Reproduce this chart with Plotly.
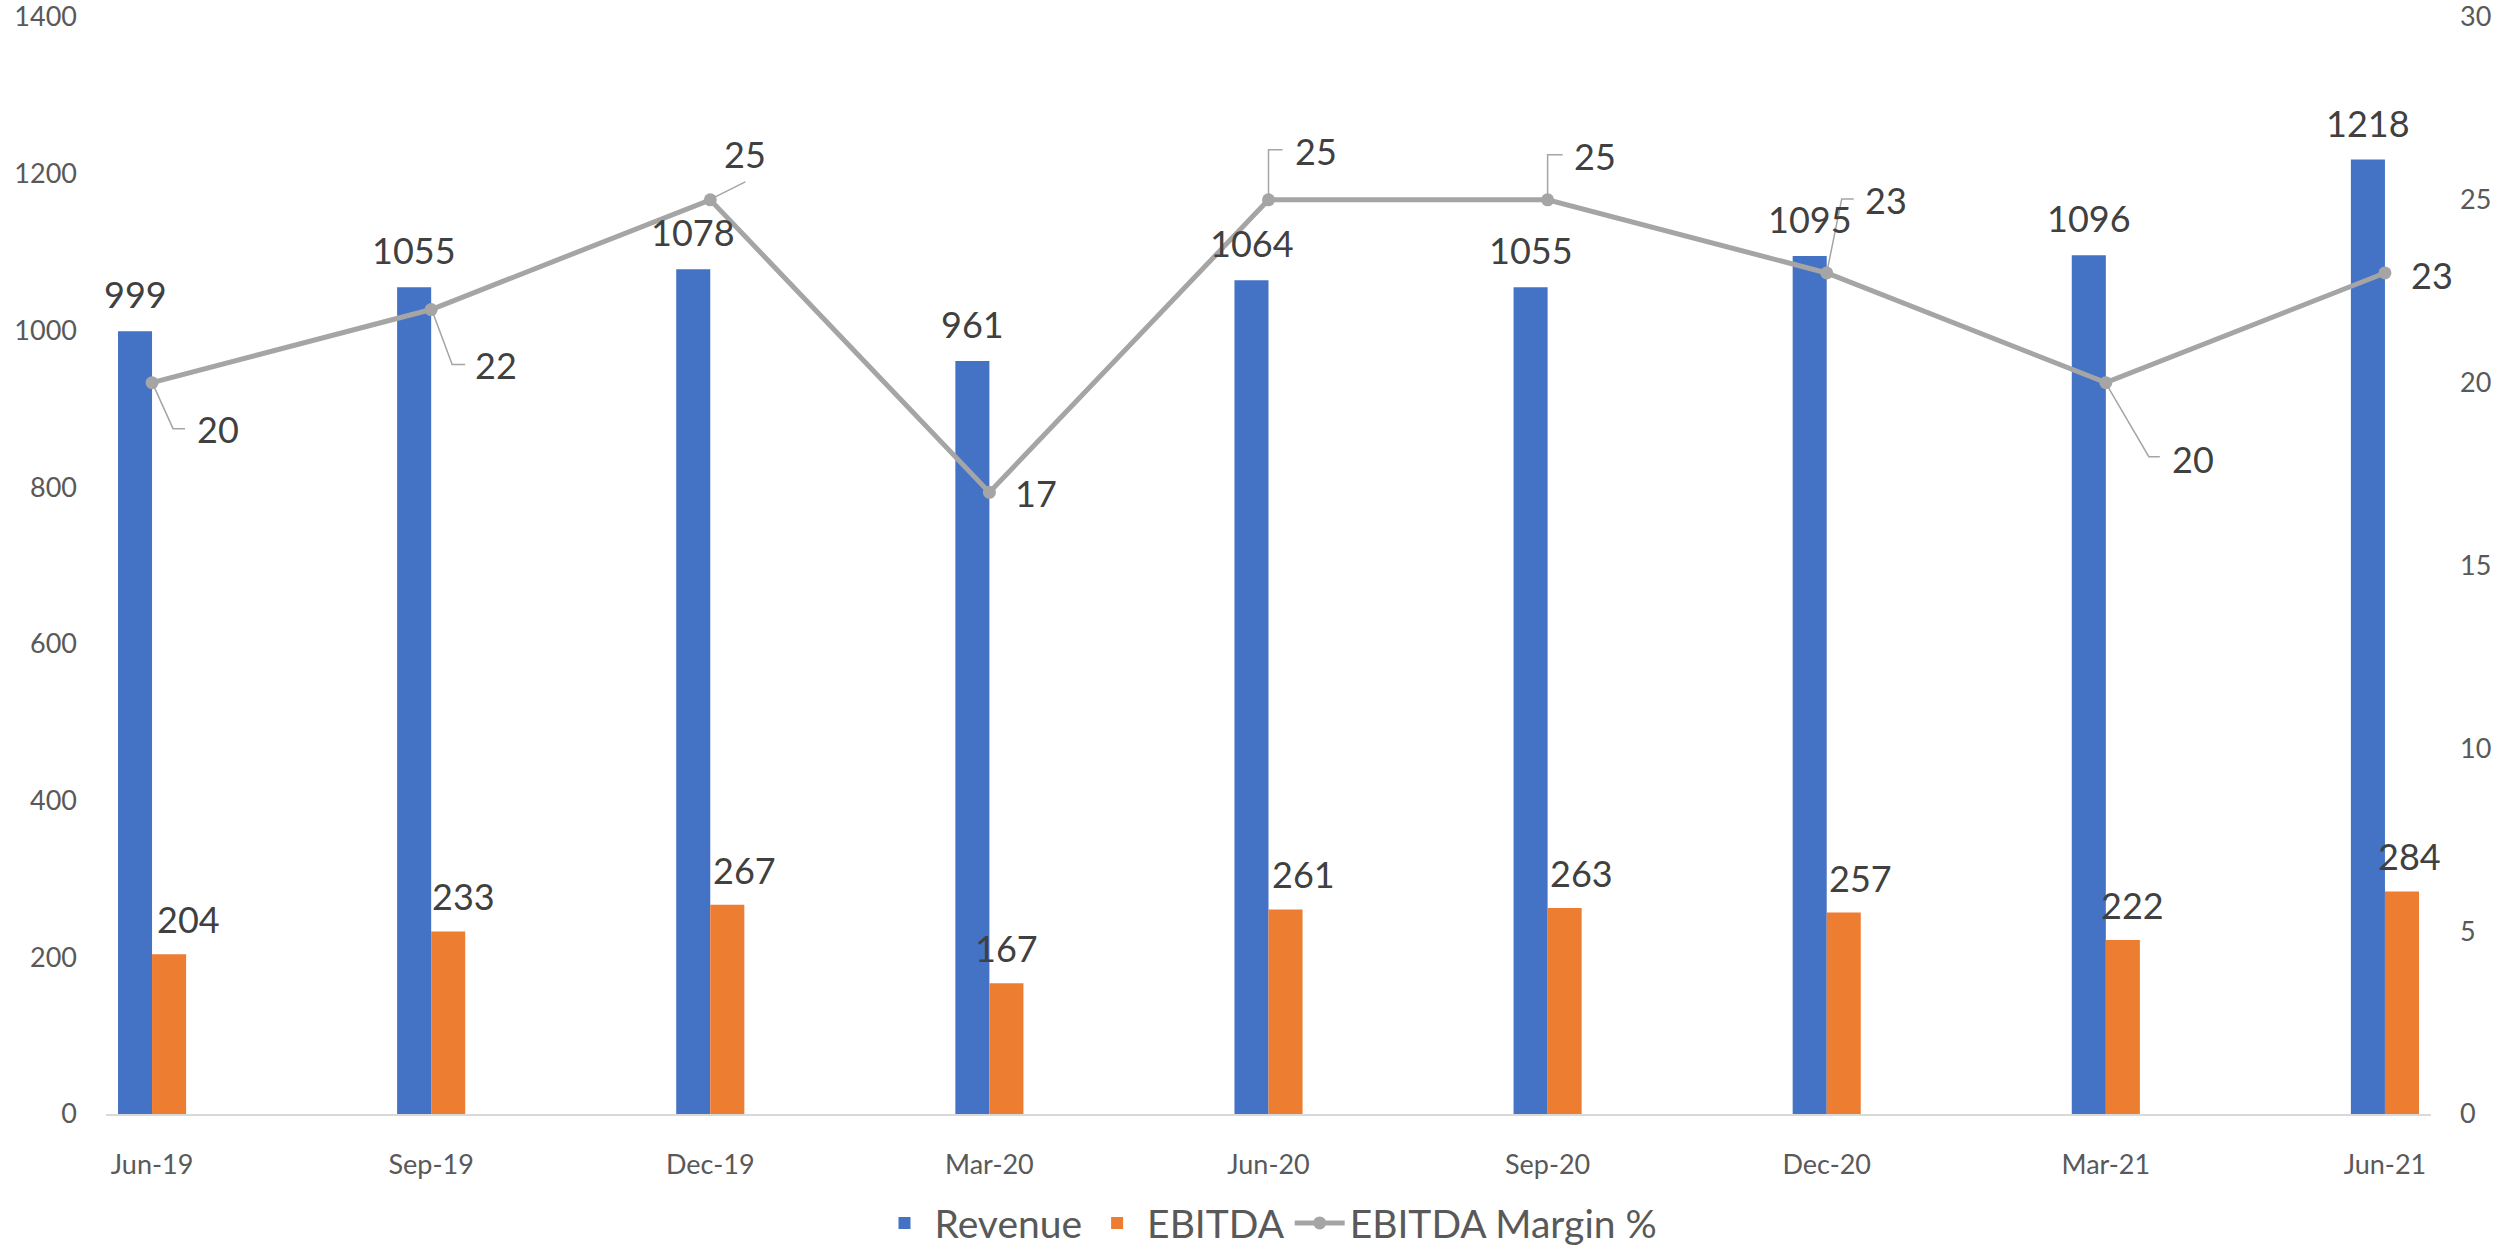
import plotly.graph_objects as go

quarters = ["Jun-19", "Sep-19", "Dec-19", "Mar-20", "Jun-20", "Sep-20", "Dec-20", "Mar-21", "Jun-21"]
revenue = [999, 1055, 1078, 961, 1064, 1055, 1095, 1096, 1218]
ebitda = [204, 233, 267, 167, 261, 263, 257, 222, 284]
margin = [20, 22, 25, 17, 25, 25, 23, 20, 23]

left_ticks = [0, 200, 400, 600, 800, 1000, 1200, 1400]
right_ticks = [0, 5, 10, 15, 20, 25, 30]

# label placement (pixel offsets), kept separate from the data
ebitda_label_dx = [19, 15, 17, 0, 18, 17, 17, 10, 8]
# margin labels: (dx, dy, xanchor), leader path points in px relative to the marker
margin_label_pos = [(43, -46, "left"), (42, -55, "left"), (35, 46, "center"), (24, -1, "left"),
                    (24, 49, "left"), (24, 44, "left"), (36, 73, "left"), (64, -76, "left"),
                    (24, -2, "left")]
margin_leaders = [[(2, -4), (21, -46), (33, -46)], [(2, -4), (21, -55), (34, -55)],
                  [(3, 2), (35, 18)], None, [(0, 5), (0, 50), (14, 50)],
                  [(0, 5), (0, 45), (15, 45)], [(1, 5), (15, 74), (27, 74)],
                  [(2, -4), (43, -74), (54, -74)], None]

FONT = "Lato"
TICK_C = "#595959"
LABEL_C = "#404040"
GREY = "#A5A5A5"

fig = go.Figure()
fig.add_trace(go.Bar(name="Revenue", x=quarters, y=revenue, marker=dict(color="#4472C4", line=dict(width=0))))
fig.add_trace(go.Bar(name="EBITDA", x=quarters, y=ebitda, marker=dict(color="#ED7D31", line=dict(width=0))))
fig.add_trace(go.Scatter(name="EBITDA Margin %", x=quarters, y=margin, yaxis="y2", mode="lines+markers",
                         line=dict(color=GREY, width=5), marker=dict(color=GREY, size=13)))

annotations = []
for q, v in zip(quarters, revenue):
    annotations.append(dict(x=q, y=v, xref="x", yref="y", text=str(v), showarrow=False,
                            xshift=-17, yshift=37, yanchor="middle", xanchor="center",
                            font=dict(family=FONT, size=36, color=LABEL_C)))
for q, v, dx in zip(quarters, ebitda, ebitda_label_dx):
    annotations.append(dict(x=q, y=v, xref="x", yref="y", text=str(v), showarrow=False,
                            xshift=17 + dx, yshift=35, yanchor="middle", xanchor="center",
                            font=dict(family=FONT, size=36, color=LABEL_C)))
shapes = []
for q, v, (dx, dy, xa), leader in zip(quarters, margin, margin_label_pos, margin_leaders):
    annotations.append(dict(x=q, y=v, xref="x", yref="y2", text=str(v), showarrow=False,
                            xshift=dx, yshift=dy, yanchor="middle", xanchor=xa,
                            font=dict(family=FONT, size=36, color=LABEL_C)))
    if leader:
        path = "M" + " L".join(f"{px},{py}" for px, py in leader)
        shapes.append(dict(type="path", xref="x", yref="y2", xsizemode="pixel", ysizemode="pixel",
                           xanchor=q, yanchor=v, path=path, line=dict(color=GREY, width=1.5)))

fig.update_layout(
    width=2497, height=1246,
    margin=dict(l=106, r=66, t=17, b=132, autoexpand=False),
    paper_bgcolor="white", plot_bgcolor="white",
    barmode="group", bargap=0.756, bargroupgap=0,
    font=dict(family=FONT, color=TICK_C),
    xaxis=dict(type="category", range=[-0.165, 8.165], showline=True, linecolor="#D9D9D9", linewidth=2,
               showgrid=False, ticks="", tickfont=dict(size=27, color=TICK_C), ticklabelstandoff=26,
               automargin=False),
    yaxis=dict(range=[0, 1400], tickvals=left_ticks, showgrid=False, zeroline=False, showline=False,
               tickfont=dict(size=27, color=TICK_C), ticklabelstandoff=28, automargin=False,
               ticklabeloverflow="allow"),
    yaxis2=dict(range=[0, 30], tickvals=right_ticks, overlaying="y", side="right", showgrid=False,
                zeroline=False, showline=False, tickfont=dict(size=27, color=TICK_C), ticklabelstandoff=28,
                automargin=False, ticklabeloverflow="allow"),
    legend=dict(orientation="h", x=0.5, xanchor="center", y=-0.0994, yanchor="middle",
                font=dict(size=39, color=TICK_C), itemwidth=50, traceorder="normal"),
    annotations=annotations, shapes=shapes,
)

fig.write_html("out.html")
